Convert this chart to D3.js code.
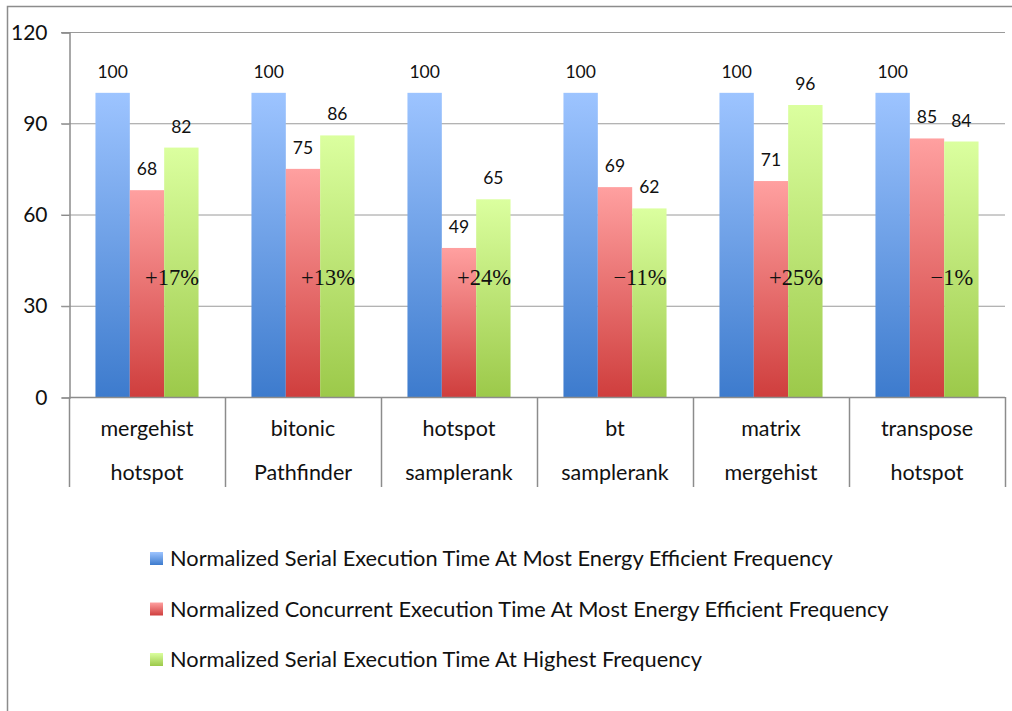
<!DOCTYPE html>
<html>
<head>
<meta charset="utf-8">
<script src="https://cdn.jsdelivr.net/npm/d3@7"></script>
<style>
  html, body { margin: 0; padding: 0; background: #fff; }
  svg { display: block; }
</style>
</head>
<body>
<svg id="chart" width="1012" height="711"></svg>
<script>
// Benchmark pairs, two lines per category
const categoryTop = ["mergehist", "bitonic", "hotspot", "bt", "matrix", "transpose"];
const categoryBottom = ["hotspot", "Pathfinder", "samplerank", "samplerank", "mergehist", "hotspot"];

const seriesNames = [
  "Normalized Serial Execution Time At Most Energy Efficient Frequency",
  "Normalized Concurrent Execution Time At Most Energy Efficient Frequency",
  "Normalized Serial Execution Time At Highest Frequency"
];
const serialEfficient = [100, 100, 100, 100, 100, 100];
const concurrentEfficient = [68, 75, 49, 69, 71, 85];
const serialHighest = [82, 86, 65, 62, 96, 84];
const speedupLabels = ["+17%", "+13%", "+24%", "\u221211%", "+25%", "\u22121%"];
const yTicks = [0, 30, 60, 90, 120];

const seriesValues = [serialEfficient, concurrentEfficient, serialHighest];
const gradients = [
  ["#9dc4ff", "#3d7bcd"],
  ["#ffa0a0", "#cf3e3d"],
  ["#dbff9f", "#9cc94a"]
];

const svg = d3.select("#chart");
const sansFont = "Lato, 'Open Sans', sans-serif";

// chart frame
svg.append("path")
  .attr("d", "M7.5,711 V6.5 H1012")
  .attr("fill", "none")
  .attr("stroke", "#8c8c8c")
  .attr("stroke-width", 1.5);

const plot = { left: 69, right: 1005, top: 32, bottom: 397 };

const x0 = d3.scaleBand()
  .domain(d3.range(categoryTop.length))
  .range([plot.left, plot.right])
  .paddingInner(0).paddingOuter(0);

const x1 = d3.scaleBand()
  .domain(d3.range(seriesValues.length))
  .range([0, x0.bandwidth()])
  .paddingInner(0)
  .paddingOuter(0.77);

const y = d3.scaleLinear().domain([0, 120]).range([plot.bottom, plot.top]);

// gradients
const defs = svg.append("defs");
gradients.forEach((g, i) => {
  const lg = defs.append("linearGradient")
    .attr("id", "grad" + i)
    .attr("x1", 0).attr("y1", 0).attr("x2", 0).attr("y2", 1);
  lg.append("stop").attr("offset", "0%").attr("stop-color", g[0]);
  lg.append("stop").attr("offset", "100%").attr("stop-color", g[1]);
});

// horizontal grid lines
svg.append("g")
  .selectAll("line")
  .data(yTicks.filter(t => t > 0))
  .join("line")
  .attr("x1", plot.left - 8).attr("x2", plot.right)
  .attr("y1", d => y(d) + 0.5).attr("y2", d => y(d) + 0.5)
  .attr("stroke", "#9a9a9a").attr("stroke-width", 1);

// y axis
const yAxis = svg.append("g")
  .attr("transform", `translate(${plot.left + 0.5},0.5)`)
  .call(d3.axisLeft(y).tickValues(yTicks).tickSize(8).tickPadding(14));
yAxis.select(".domain").attr("stroke", "#8c8c8c").attr("stroke-width", 1.5);
yAxis.selectAll(".tick line").attr("stroke", "#8c8c8c");
yAxis.selectAll(".tick text")
  .attr("font-family", sansFont)
  .attr("font-size", 21)
  .attr("fill", "#111");

// bars
const groups = svg.append("g")
  .selectAll("g")
  .data(categoryTop.map((c, i) => i))
  .join("g")
  .attr("transform", i => `translate(${x0(i)},0)`);

groups.selectAll("rect")
  .data(i => seriesValues.map((s, k) => ({ k, v: s[i] })))
  .join("rect")
  .attr("x", d => x1(d.k))
  .attr("width", x1.bandwidth())
  .attr("y", d => y(d.v))
  .attr("height", d => y(0) - y(d.v))
  .attr("fill", d => `url(#grad${d.k})`);

// value labels
groups.selectAll("text.value")
  .data(i => seriesValues.map((s, k) => ({ k, v: s[i] })))
  .join("text")
  .attr("class", "value")
  .attr("x", d => x1(d.k) + x1.bandwidth() / 2)
  .attr("y", d => y(d.v) - 15)
  .attr("text-anchor", "middle")
  .attr("font-family", sansFont)
  .attr("font-size", 17.5)
  .attr("fill", "#111")
  .text(d => d.v);

// speedup annotations
groups.append("text")
  .attr("x", x0.bandwidth() * 0.66)
  .attr("y", 285)
  .attr("text-anchor", "middle")
  .attr("font-family", "'Liberation Serif', 'DejaVu Serif', serif")
  .attr("font-size", 22.5)
  .attr("fill", "#111")
  .text(i => speedupLabels[i]);

// x axis baseline
svg.append("line")
  .attr("x1", plot.left).attr("x2", plot.right)
  .attr("y1", plot.bottom + 0.5).attr("y2", plot.bottom + 0.5)
  .attr("stroke", "#8c8c8c").attr("stroke-width", 1.5);

// category dividers
svg.append("g")
  .selectAll("line")
  .data(d3.range(categoryTop.length + 1))
  .join("line")
  .attr("x1", i => plot.left + i * x0.bandwidth() + 0.5)
  .attr("x2", i => plot.left + i * x0.bandwidth() + 0.5)
  .attr("y1", plot.bottom)
  .attr("y2", 487)
  .attr("stroke", "#8c8c8c").attr("stroke-width", 1.5);

// two-line category labels
const catLabels = svg.append("g")
  .selectAll("g")
  .data(categoryTop.map((c, i) => i))
  .join("g")
  .attr("transform", i => `translate(${x0(i) + x0.bandwidth() / 2},0)`)
  .attr("font-family", sansFont)
  .attr("font-size", 21.5)
  .attr("fill", "#111")
  .attr("text-anchor", "middle");
catLabels.append("text").attr("y", 436).text(i => categoryTop[i]);
catLabels.append("text").attr("y", 480).text(i => categoryBottom[i]);

// legend
const legend = svg.append("g")
  .selectAll("g")
  .data(seriesNames.map((n, k) => k))
  .join("g")
  .attr("transform", k => `translate(150,${559 + k * 50.5})`);
legend.append("rect")
  .attr("x", 0).attr("y", -7)
  .attr("width", 13).attr("height", 13)
  .attr("fill", k => `url(#grad${k})`);
legend.append("text")
  .attr("x", 20).attr("y", 7)
  .attr("font-family", sansFont)
  .attr("font-size", 21.8)
  .attr("fill", "#111")
  .text(k => seriesNames[k]);
</script>
</body>
</html>
